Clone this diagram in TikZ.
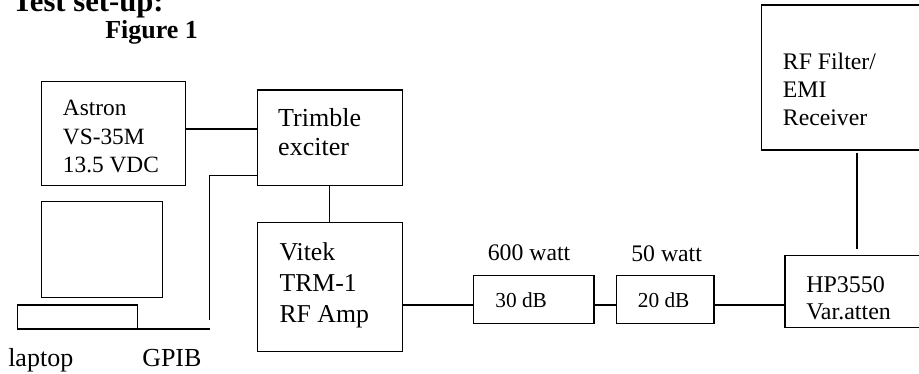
\documentclass[tikz,border=0pt]{standalone}
\usepackage{fontspec}
\setmainfont{Liberation Serif}
\usetikzlibrary{positioning, calc}
\tikzset{
  unit/.style={
    draw, line width=0.9pt, inner sep=0pt, outer sep=0pt
  },
  wire/.style={line width=0.9pt},
  boxtext/.style={
    inner sep=0pt, align=left,
    font=\fontsize{17.5}{21.5}\selectfont
  },
  padtext/.style={
    inner sep=0pt, align=left,
    font=\fontsize{16}{19}\selectfont
  },
  tag/.style={
    inner sep=0pt,
    font=\fontsize{17.8}{21.5}\selectfont
  },
}

\begin{document}
\begin{tikzpicture}[x=0.75pt, y=-0.75pt]
  \clip (0,0) rectangle (919,374);

  \node[anchor=base west, inner sep=0pt, font=\fontsize{23}{27}\selectfont\bfseries]
    (title) at (12,12) {Test set-up:};
  \node[anchor=base west, inner sep=0pt, font=\fontsize{19.5}{23}\selectfont\bfseries]
    (fig) at (105,39) {Figure 1};

  % supply and exciter
  \node[unit, minimum width=108pt, minimum height=78pt] (astron) at (113.7,133.7) {};
  \node[boxtext, below right=13.7pt and 15.75pt of astron.north west] (astrontext) {%
    Astron\\VS-35M\\13.5 VDC};

  \node[unit, minimum width=108.75pt, minimum height=71.8pt] (trimble) at (329.8,137.85) {};
  \node[boxtext, font=\fontsize{19.5}{21.75}\selectfont,
        below right=13.5pt and 15.5pt of trimble.north west] (trimbletext) {%
    Trimble\\exciter};

  \node[unit, minimum width=108.75pt, minimum height=96.75pt] (vitek) at (329.8,287.2) {};
  \node[boxtext, font=\fontsize{19.3}{23.25}\selectfont,
        below right=14.5pt and 16.5pt of vitek.north west] (vitektext) {%
    Vitek\\TRM-1\\RF Amp};

  % laptop
  \node[unit, minimum width=90.5pt, minimum height=72pt] (screen) at (102,249.7) {};
  \node[unit, minimum width=90.3pt, minimum height=18pt] (keyboard) at (77.5,317) {};
  \node[tag, font=\fontsize{19.5}{23}\selectfont, anchor=base west] (laptop) at (8,366) {laptop};
  \node[tag, font=\fontsize{19.5}{23}\selectfont, anchor=base west] (gpiblabel) at (142,366) {GPIB};

  % attenuators
  \node[unit, minimum width=90.5pt, minimum height=35.7pt] (pad30) at (533.7,299.5) {};
  \node[padtext, below right=12.2pt and 16.3pt of pad30.north west] (pad30text) {30 dB};
  \node[tag, above=11pt of pad30, xshift=-3.5pt] (watt600) {600 watt};

  \node[unit, minimum width=73pt, minimum height=36pt] (pad20) at (665.3,299.3) {};
  \node[padtext, below right=13pt and 15.75pt of pad20.north west] (pad20text) {20 dB};
  \node[tag, above=10pt of pad20, xshift=1pt] (watt50) {50 watt};

  \node[unit, minimum width=123.75pt, minimum height=53.7pt] (hp) at (867.5,291.5) {};
  \node[boxtext, font=\fontsize{18}{20.3}\selectfont,
        below right=15.2pt and 15.75pt of hp.north west] (hptext) {%
    HP3550\\Var.atten};

  \node[unit, minimum width=141.5pt, minimum height=108.75pt] (rxfilter) at (855.65,77.5) {};
  \node[boxtext, font=\fontsize{17.8}{21}\selectfont,
        below right=36pt and 16pt of rxfilter.north west] (rxtext) {%
    RF Filter/\\EMI\\Receiver};

  % wiring
  \coordinate (psu) at ($(astron.east)+(0,-4.7)$);
  \draw[wire] (psu) -- (psu -| trimble.west);

  \coordinate (gpib) at ($(trimble.south west)+(0,-10.4)$);
  \coordinate (gpibdrop) at (209.7,320);
  \coordinate (gpibend) at (210,329);
  \draw[wire] (gpib) -| (gpibdrop);
  \draw[wire] (keyboard.south east) -- (gpibend);

  \draw[wire] (trimble.south) -- (vitek.north);

  \coordinate (rfline) at (0,305);
  \draw[wire] (vitek.east |- rfline) -- (pad30.west |- rfline);
  \draw[wire] (pad30.east |- rfline) -- (pad20.west |- rfline);
  \draw[wire] (pad20.east |- rfline) -- (hp.west |- rfline);

  \coordinate (rxtap) at (857,0);
  \draw[wire, shorten <=2pt, shorten >=5pt] (rxfilter.south -| rxtap) -- (hp.north -| rxtap);
\end{tikzpicture}
\end{document}
